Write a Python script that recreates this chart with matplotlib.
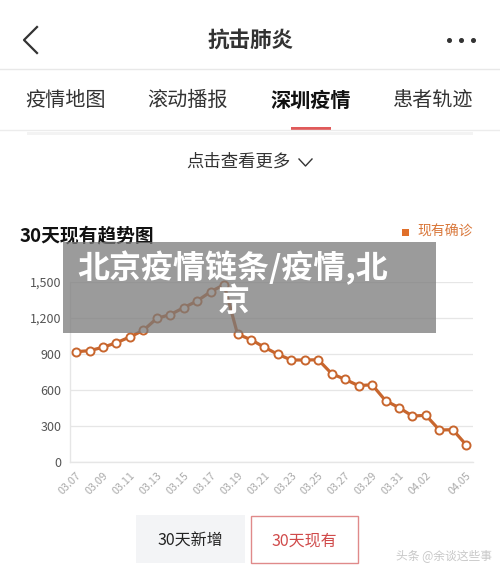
import matplotlib
matplotlib.use("Agg")
import matplotlib.pyplot as plt
from matplotlib.patches import Rectangle
from matplotlib.lines import Line2D

plt.rcParams['font.family'] = ['Noto Sans CJK SC', 'DejaVu Sans']

# data
dates = ["03.07", "03.08", "03.09", "03.10", "03.11", "03.12", "03.13", "03.14",
         "03.15", "03.16", "03.17", "03.18", "03.19", "03.20", "03.21", "03.22",
         "03.23", "03.24", "03.25", "03.26", "03.27", "03.28", "03.29", "03.30",
         "03.31", "04.01", "04.02", "04.03", "04.04", "04.05"]
existing = [919, 928, 956, 994, 1042, 1097, 1197, 1228, 1286, 1342, 1419, 1478,
            1066, 1019, 956, 897, 850, 850, 852, 736, 688, 636, 644, 511,
            453, 383, 389, 267, 269, 142]
shown_ticks = ["03.07", "03.09", "03.11", "03.13", "03.15", "03.17", "03.19",
               "03.21", "03.23", "03.25", "03.27", "03.29", "03.31", "04.02", "04.05"]
y_ticks = [0, 300, 600, 900, 1200, 1500]
tabs = ["疫情地图", "滚动播报", "深圳疫情", "患者轨迹"]

W, H = 500, 576
fig = plt.figure(figsize=(W / 100, H / 100), dpi=100)
fig.patch.set_facecolor("white")


def P(x, y):
    return x / W, 1 - y / H


def txt(x, y, s, **kw):
    fig.text(*P(x, y), s, va="center", **kw)


def hline(x0, x1, y, color, lw=1.0, z=1):
    fig.add_artist(Line2D([x0 / W, x1 / W], [1 - y / H, 1 - y / H], color=color, lw=lw, zorder=z))


# header
fig.add_artist(Line2D([37 / W, 24 / W, 37 / W], [1 - 27 / H, 1 - 40 / H, 1 - 53 / H],
                      color="#333333", lw=1.6))
txt(251, 40, "抗击肺炎", ha="center", fontsize=15.5, color="#333333", fontweight="bold")
for dx in (449, 461, 473):
    fig.add_artist(Line2D([dx / W], [1 - 40 / H], marker="o", markersize=2.6,
                          color="#333333", lw=0))
hline(0, 500, 69, "#e8e8e8", 1.0)

# tabs
for name, cx in zip(tabs, [66, 188, 311, 433]):
    bold = name == "深圳疫情"
    txt(cx, 100, name, ha="center", fontsize=14.5,
        color="#111111" if bold else "#333333", fontweight="bold" if bold else "normal")
fig.add_artist(Rectangle(P(291, 130), 40 / W, 3 / H, facecolor="#e05a5a", lw=0))
hline(0, 500, 130, "#ececec", 1.0)
fig.add_artist(Rectangle(P(27, 135), 446 / W, 3 / H, facecolor="#f3f3f3", lw=0))

# "click to see more"
txt(238, 162, "点击查看更多", ha="center", fontsize=12.5, color="#333333")
fig.add_artist(Line2D([299 / W, 305.5 / W, 312 / W], [1 - 159 / H, 1 - 166 / H, 1 - 159 / H],
                      color="#333333", lw=1.0))

# chart title and legend
txt(20, 236, "30天现有趋势图", ha="left", fontsize=13.5, color="#111111", fontweight="bold")
fig.add_artist(Rectangle(P(402, 236), 7 / W, 7 / H, facecolor="#e06f2a", lw=0))
txt(417, 232, "现有确诊", ha="left", fontsize=10, color="#d9773a")

# chart
ax = fig.add_axes([70 / W, (H - 462) / H, (473 - 70) / W, (462 - 282) / H])
x = list(range(len(dates)))
ax.plot(x, existing, color="#c8662e", lw=2.3, marker="o", markersize=5.8,
        markerfacecolor="white", markeredgecolor="#c8662e", markeredgewidth=1.4,
        clip_on=False, zorder=3)
ax.set_xlim(-0.45, len(dates) - 0.5)
ax.set_ylim(0, 1500)
ax.set_yticks(y_ticks)
ax.set_yticklabels([f"{v:,}" for v in y_ticks], fontsize=9, color="#555555")
ax.set_xticks([dates.index(d) for d in shown_ticks])
ax.set_xticklabels(shown_ticks, rotation=45, ha="right", rotation_mode="anchor",
                   fontsize=7.8, color="#aaaaaa")
ax.tick_params(length=0, pad=6)
ax.grid(axis="y", color="#e6e6e6", lw=0.9)
ax.set_axisbelow(True)
for side in ("top", "right"):
    ax.spines[side].set_visible(False)
for side in ("left", "bottom"):
    ax.spines[side].set_color("#e6e6e6")
    ax.spines[side].set_linewidth(1.0)

# grey overlay with headline
fig.add_artist(Rectangle(P(63, 333), (436 - 63) / W, (333 - 242) / H,
                         facecolor="#7a7a7a", alpha=0.75, lw=0, zorder=5))
fig.text(*P(77, 268), "北京疫情链条/疫情,北", ha="left", va="center", fontsize=23,
         color="white", fontweight="heavy", zorder=6)
fig.text(*P(218, 302), "京", ha="left", va="center", fontsize=23,
         color="white", fontweight="heavy", zorder=6)

# bottom buttons
fig.add_artist(Rectangle(P(136, 563), 109 / W, 48 / H, facecolor="#f3f4f6", lw=0))
txt(190, 541, "30天新增", ha="center", fontsize=11.5, color="#222222")
fig.add_artist(Rectangle(P(250.5, 562.5), 107 / W, 47 / H, facecolor="white",
                         edgecolor="#e08a8a", lw=1.0))
txt(304, 541, "30天现有", ha="center", fontsize=11.5, color="#d04a4a")
txt(444, 556, "头条 @余谈这些事", ha="center", fontsize=8.5, color="#c8c8c8")

fig.savefig("out.png", dpi=100, facecolor="white")
